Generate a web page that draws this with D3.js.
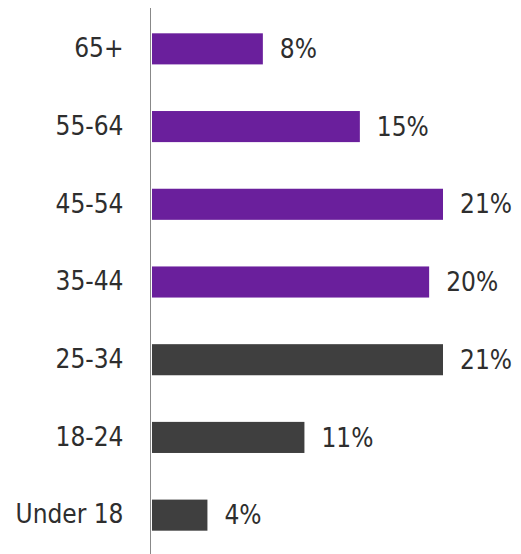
<!DOCTYPE html>
<html>
<head>
<meta charset="utf-8">
<script src="https://cdn.jsdelivr.net/npm/d3@7"></script>
<style>
  body { margin: 0; background: #fff; }
  svg { display: block; }
</style>
</head>
<body>
<div id="chart"></div>
<script>
// data, top to bottom
var ageGroups = ["65+", "55-64", "45-54", "35-44", "25-34", "18-24", "Under 18"];
var shares = [8, 15, 21, 20, 21, 11, 4];
var groupColors = ["purple", "purple", "purple", "purple", "gray", "gray", "gray"];

var width = 521, height = 554;

var svg = d3.select("#chart")
  .append("svg")
    .attr("width", width)
    .attr("height", height);

// scales
var x = d3.scaleLinear()
  .domain([0, 21])
  .range([152, 443]);

var y = d3.scaleBand()
  .domain(ageGroups)
  .range([10, 554])
  .paddingInner(0.6)
  .paddingOuter(0.3);

var color = d3.scaleOrdinal()
  .domain(["purple", "gray"])
  .range(["#6a1f9c", "#3f3f3f"]);

var rows = ageGroups.map(function (g, i) {
  return {group: g, value: shares[i], kind: groupColors[i]};
});

// bars
svg.append("g")
  .selectAll("rect")
  .data(rows)
  .enter()
  .append("rect")
    .attr("x", x(0))
    .attr("y", function (d) { return y(d.group); })
    .attr("width", function (d) { return x(d.value) - x(0); })
    .attr("height", y.bandwidth())
    .style("fill", function (d) { return color(d.kind); });

// vertical axis with category labels
var yAxis = svg.append("g")
  .attr("transform", "translate(150.5,0)")
  .call(d3.axisLeft(y).tickSize(0).tickPadding(27));

yAxis.select(".domain")
  .attr("d", "M0,8V554")
  .attr("stroke", "#888")
  .attr("stroke-width", 1);

yAxis.selectAll("text")
  .style("font-family", "'DejaVu Sans Condensed', 'DejaVu Sans', sans-serif")
  .style("font-size", "26px")
  .style("fill", "#2e2e2e");

// value labels
svg.append("g")
  .selectAll("text")
  .data(rows)
  .enter()
  .append("text")
    .attr("x", function (d) { return x(d.value) + 17; })
    .attr("y", function (d) { return y(d.group) + y.bandwidth() / 2; })
    .attr("dy", "0.35em")
    .style("font-family", "'DejaVu Sans Condensed', 'DejaVu Sans', sans-serif")
    .style("font-size", "26px")
    .style("fill", "#2e2e2e")
    .text(function (d) { return d.value + "%"; });
</script>
</body>
</html>
